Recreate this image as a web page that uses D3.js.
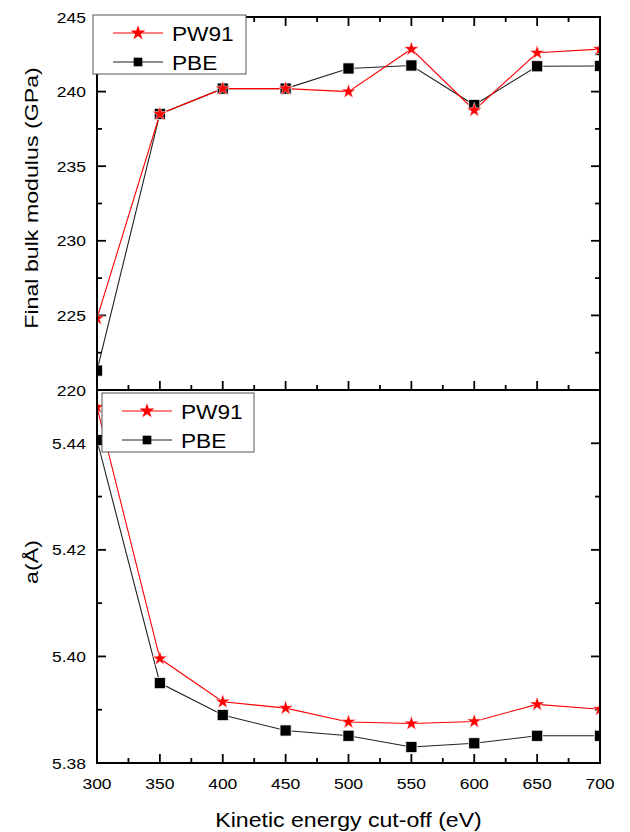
<!DOCTYPE html>
<html>
<head>
<meta charset="utf-8">
<script src="https://cdn.jsdelivr.net/npm/d3@7"></script>
<style>
  body { margin: 0; background: #fff; }
  svg text { font-family: "Liberation Sans", Arial, sans-serif; fill: #000; }
</style>
</head>
<body>
<svg id="chart" width="630" height="832"></svg>
<script>
// cut-off energies (eV)
const cutoff = [300, 350, 400, 450, 500, 550, 600, 650, 700];

// final bulk modulus (GPa)
const bulkPW91 = [224.8, 238.5, 240.2, 240.2, 240.0, 242.85, 238.75, 242.6, 242.85];
const bulkPBE  = [221.3, 238.5, 240.2, 240.2, 241.55, 241.75, 239.1, 241.7, 241.72];

// lattice constant a (Å)
const latPW91 = [5.4468, 5.3996, 5.3915, 5.3903, 5.3877, 5.3874, 5.3878, 5.3910, 5.3901];
const latPBE  = [5.4406, 5.3950, 5.3890, 5.3861, 5.3851, 5.3830, 5.3837, 5.3851, 5.3851];

const xTicks = [300, 350, 400, 450, 500, 550, 600, 650, 700];
const bulkTicks = [220, 225, 230, 235, 240, 245];
const latTicks = [5.38, 5.40, 5.42, 5.44];

const left = 97, right = 600;
const svg = d3.select('#chart');

const x = d3.scaleLinear().domain([300, 700]).range([left, right]);

const panels = [
  {
    top: 17, bottom: 390, domain: [220, 245], ticks: bulkTicks, minor: 2.5,
    fmt: d3.format('d'), label: 'Final bulk modulus (GPa)', labelY: 198,
    pw91: bulkPW91, pbe: bulkPBE, topTicks: true, xLabels: false,
    legend: { x: 93, y: 15, w: 153, h: 59 }
  },
  {
    top: 390, bottom: 763, domain: [5.38, 5.45], ticks: latTicks, minor: 0.01,
    fmt: d3.format('.2f'), label: 'a(Å)', labelY: 562,
    pw91: latPW91, pbe: latPBE, topTicks: false, xLabels: true,
    legend: { x: 102, y: 393, w: 152, h: 59 }
  }
];

const starSym = d3.symbol().type(d3.symbolStar).size(68);
const squareSym = d3.symbol().type(d3.symbolSquare).size(125);
const legendSquare = d3.symbol().type(d3.symbolSquare).size(75);

// text drawn slightly wider than the font, like the original figure
function stretchText(sel, tx, ty, sx, rot) {
  return sel.attr('transform', `translate(${tx},${ty})${rot ? ' rotate(' + rot + ')' : ''} scale(${sx},1)`);
}

panels.forEach((p, i) => {
  const y = d3.scaleLinear().domain(p.domain).range([p.bottom, p.top]);
  const g = svg.append('g');

  const clipId = 'clip' + i;
  svg.append('clipPath').attr('id', clipId)
    .append('rect').attr('x', left).attr('y', p.top)
    .attr('width', right - left).attr('height', p.bottom - p.top);

  // minor / major ticks
  const yMinor = d3.range(p.domain[0], p.domain[1] + 1e-9, p.minor);
  const xMinor = d3.range(300, 701, 25);

  const axisG = g.append('g').attr('stroke', '#000');
  yMinor.forEach(v => {
    const major = p.ticks.some(t => Math.abs(t - v) < 1e-9);
    const len = major ? 9 : 5;
    const yy = y(v);
    axisG.append('line').attr('x1', left).attr('x2', left + len).attr('y1', yy).attr('y2', yy).attr('stroke-width', 1.8);
    axisG.append('line').attr('x1', right).attr('x2', right - len).attr('y1', yy).attr('y2', yy).attr('stroke-width', 1.8);
  });
  xMinor.forEach(v => {
    const major = v % 50 === 0;
    const len = major ? 9 : 5;
    const xx = x(v);
    axisG.append('line').attr('x1', xx).attr('x2', xx).attr('y1', p.bottom).attr('y2', p.bottom - len).attr('stroke-width', 1.8);
    if (p.topTicks) {
      axisG.append('line').attr('x1', xx).attr('x2', xx).attr('y1', p.top).attr('y2', p.top + len).attr('stroke-width', 1.8);
    }
  });

  // y tick labels
  g.append('g').selectAll('text').data(p.ticks).join('text')
    .each(function (d) { stretchText(d3.select(this), left - 11, y(d), 1.13); })
    .attr('dy', '0.36em')
    .attr('text-anchor', 'end').style('font-size', '15.5px')
    .text(d => p.fmt(d));

  if (p.xLabels) {
    g.append('g').selectAll('text').data(xTicks).join('text')
      .each(function (d) { stretchText(d3.select(this), x(d), p.bottom + 25.5, 1.13); })
      .attr('text-anchor', 'middle').style('font-size', '15.5px')
      .text(d => d);
  }

  // series
  const plot = g.append('g').attr('clip-path', `url(#${clipId})`);
  const line = vals => d3.line().x((d, j) => x(cutoff[j])).y(d => y(d))(vals);

  plot.append('path').attr('d', line(p.pbe)).attr('fill', 'none').attr('stroke', '#222').attr('stroke-width', 1.1);
  plot.append('path').attr('d', line(p.pw91)).attr('fill', 'none').attr('stroke', '#ff0000').attr('stroke-width', 1.1);

  plot.selectAll('.sq').data(p.pbe).join('path').attr('class', 'sq')
    .attr('transform', (d, j) => `translate(${x(cutoff[j])},${y(d)})`)
    .attr('d', squareSym).attr('fill', '#000').attr('stroke', '#fff').attr('stroke-width', 0.8);
  plot.selectAll('.st').data(p.pw91).join('path').attr('class', 'st')
    .attr('transform', (d, j) => `translate(${x(cutoff[j])},${y(d)})`)
    .attr('d', starSym).attr('fill', '#ff0000').attr('stroke', '#fff').attr('stroke-width', 0.5);

  // frame
  g.append('rect').attr('x', left).attr('y', p.top)
    .attr('width', right - left).attr('height', p.bottom - p.top)
    .attr('fill', 'none').attr('stroke', '#000').attr('stroke-width', 2);

  // y axis title
  stretchText(g.append('text'), 38, p.labelY, 1.22, -90)
    .attr('text-anchor', 'middle').style('font-size', '19px')
    .text(p.label);

  // legend
  const L = p.legend;
  const lg = g.append('g');
  lg.append('rect').attr('x', L.x).attr('y', L.y).attr('width', L.w).attr('height', L.h)
    .attr('fill', '#fff').attr('stroke', '#555').attr('stroke-width', 1);
  const items = [
    { name: 'PW91', color: '#ff0000', line: '#ff0000', sym: starSym },
    { name: 'PBE', color: '#000', line: '#222', sym: legendSquare }
  ];
  items.forEach((it, k) => {
    const ly = L.y + 18 + k * 29;
    lg.append('line').attr('x1', L.x + 20).attr('x2', L.x + 70).attr('y1', ly).attr('y2', ly)
      .attr('stroke', it.line).attr('stroke-width', 1.1);
    lg.append('path').attr('transform', `translate(${L.x + 45},${ly})`)
      .attr('d', it.sym).attr('fill', it.color);
    stretchText(lg.append('text'), L.x + 79, ly, 1.08)
      .attr('dy', '0.36em')
      .style('font-size', '21px').text(it.name);
  });
});

// x axis title
stretchText(svg.append('text'), (left + right) / 2, 827, 1.1)
  .attr('text-anchor', 'middle').style('font-size', '21px')
  .text('Kinetic energy cut-off (eV)');
</script>
</body>
</html>
